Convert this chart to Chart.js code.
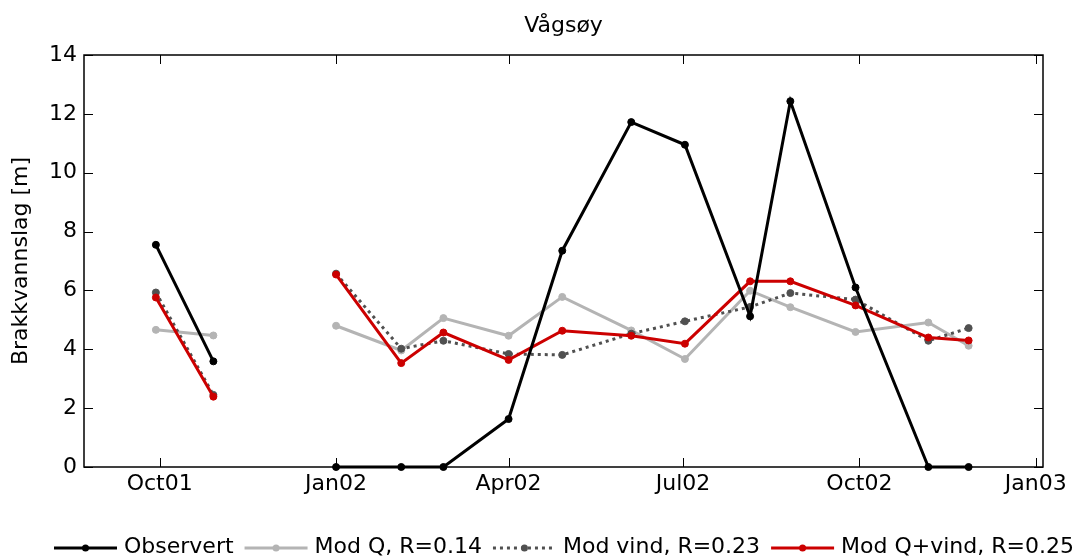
<!DOCTYPE html>
<html><head><meta charset="utf-8">
<script src="https://cdn.jsdelivr.net/npm/chart.js@4.4.1/dist/chart.umd.min.js"></script>
<style>html,body{margin:0;padding:0;background:#fff;}canvas{display:block;}</style>
</head><body>
<canvas id="c" width="1078" height="559"></canvas>
<script>
// ---- data ----
const sampleDates = ['2001-09-29','2001-10-29','2001-12-01','2002-01-01','2002-02-04','2002-02-26','2002-04-01','2002-04-29','2002-06-04','2002-07-02','2002-08-05','2002-08-26','2002-09-29','2002-11-06','2002-11-27'];
const observed  = [7.55, 3.59, null, 0.00, 0.00, 0.00, 1.63, 7.35, 11.72, 10.95, 5.12, 12.43, 6.10, 0.00, 0.00];
const modQ      = [4.66, 4.47, null, 4.80, 3.96, 5.06, 4.46, 5.78, 4.64, 3.67, 5.99, 5.43, 4.59, 4.91, 4.12];
const modVind   = [5.93, 2.45, null, 6.57, 4.02, 4.29, 3.84, 3.81, 4.53, 4.95, 5.44, 5.91, 5.69, 4.29, 4.72];
const modQVind  = [5.76, 2.39, null, 6.54, 3.53, 4.57, 3.64, 4.63, 4.46, 4.19, 6.31, 6.31, 5.49, 4.40, 4.30];
const seriesNames = ['Observert', 'Mod Q, R=0.14', 'Mod vind, R=0.23', 'Mod Q+vind, R=0.25'];
const tickDates  = ['2001-10-01','2002-01-01','2002-04-01','2002-07-01','2002-10-01','2003-01-01'];
const tickLabels = ['Oct01','Jan02','Apr02','Jul02','Oct02','Jan03'];
const chartTitle = 'Vågsøy';
const yTitle = 'Brakkvannslag [m]';

// ---- helpers ----
const BASE = Date.UTC(2001, 9, 1);
function dayOf(s){ const [y,m,d] = s.split('-').map(Number); return (Date.UTC(y,m-1,d) - BASE)/86400000; }
const xDays = sampleDates.map(dayOf);
const tickDays = tickDates.map(dayOf);
const pts = arr => arr.map((v,i) => ({x: xDays[i], y: v}));
const FONT = {family: "'DejaVu Sans', sans-serif", size: 22};

const styles = [
  {color:'#000000', dash:[], order:0},
  {color:'#b4b4b4', dash:[], order:3},
  {color:'#505050', dash:[3,4], order:2},
  {color:'#cc0000', dash:[], order:1}
];
const seriesData = [observed, modQ, modVind, modQVind];

const datasets = seriesData.map((arr,i) => ({
  label: seriesNames[i],
  data: pts(arr),
  borderColor: styles[i].color,
  backgroundColor: styles[i].color,
  pointBackgroundColor: styles[i].color,
  pointBorderColor: styles[i].color,
  borderWidth: 3,
  borderDash: styles[i].dash,
  pointRadius: 3.5,
  pointBorderWidth: 1,
  spanGaps: false,
  tension: 0,
  clip: false,
  order: styles[i].order,
  fill: false
}));

const frame = {
  id: 'frame',
  afterDraw(chart){
    const ctx = chart.ctx, a = chart.chartArea;
    const xs = chart.scales.x, ys = chart.scales.y;
    ctx.save();
    ctx.strokeStyle = '#000';
    ctx.lineWidth = 1;
    ctx.setLineDash([]);
    // inward ticks
    ctx.beginPath();
    tickDays.forEach(v => {
      const px = Math.round(xs.getPixelForValue(v)) + 0.5;
      ctx.moveTo(px, a.bottom); ctx.lineTo(px, a.bottom - 9);
      ctx.moveTo(px, a.top); ctx.lineTo(px, a.top + 9);
    });
    ys.ticks.forEach(t => {
      const py = Math.round(ys.getPixelForValue(t.value)) + 0.5;
      ctx.moveTo(a.left, py); ctx.lineTo(a.left + 9, py);
      ctx.moveTo(a.right, py); ctx.lineTo(a.right - 9, py);
    });
    ctx.stroke();
    // box
    ctx.lineWidth = 1.5;
    ctx.strokeRect(a.left, a.top, a.right - a.left, a.bottom - a.top);
    // title centred on the axes
    ctx.font = FONT.size + "px " + FONT.family;
    ctx.fillStyle = '#000';
    ctx.textAlign = 'center';
    ctx.textBaseline = 'alphabetic';
    ctx.fillText(chartTitle, (a.left + a.right) / 2, 32);
    // legend
    let x = 54; const yLine = 548, yText = 547;
    ctx.textBaseline = 'middle';
    ctx.textAlign = 'left';
    chart.data.datasets.forEach(ds => {
      ctx.strokeStyle = ds.borderColor;
      ctx.lineWidth = 3;
      ctx.setLineDash(ds.borderDash || []);
      ctx.beginPath(); ctx.moveTo(x, yLine); ctx.lineTo(x + 63, yLine); ctx.stroke();
      ctx.setLineDash([]);
      ctx.fillStyle = ds.borderColor;
      ctx.beginPath(); ctx.arc(x + 31.5, yLine, 3.5, 0, Math.PI*2); ctx.fill();
      ctx.fillStyle = '#000';
      const tx = x + 63 + 7;
      ctx.fillText(ds.label, tx, yText);
      x = tx + ctx.measureText(ds.label).width + 11;
    });
    ctx.restore();
  }
};

new Chart(document.getElementById('c'), {
  type: 'line',
  data: {datasets},
  options: {
    responsive: false,
    animation: false,
    devicePixelRatio: 1,
    layout: {padding: {top: 55, right: 35, bottom: 0, left: 0}},
    plugins: {
      legend: {display: false},
      tooltip: {enabled: false},
      title: {display: false}
    },
    scales: {
      x: {
        type: 'linear', min: -39.5, max: 460.8,
        afterBuildTicks: s => { s.ticks = tickDays.map(v => ({value: v})); },
        ticks: {callback: (v, i) => tickLabels[i], font: FONT, color: '#000', padding: 4, maxRotation: 0, autoSkip: false},
        grid: {display: false, drawTicks: false},
        border: {display: false},
        afterFit: s => { s.height = 92; }
      },
      y: {
        min: 0, max: 14,
        ticks: {stepSize: 2, font: FONT, color: '#000', padding: 7},
        grid: {display: false, drawTicks: false},
        border: {display: false},
        title: {display: true, text: yTitle, color: '#000', font: FONT, padding: {top: 8, bottom: 0}},
        afterFit: s => { s.width = 84; }
      }
    }
  },
  plugins: [frame]
});
</script>
</body></html>
